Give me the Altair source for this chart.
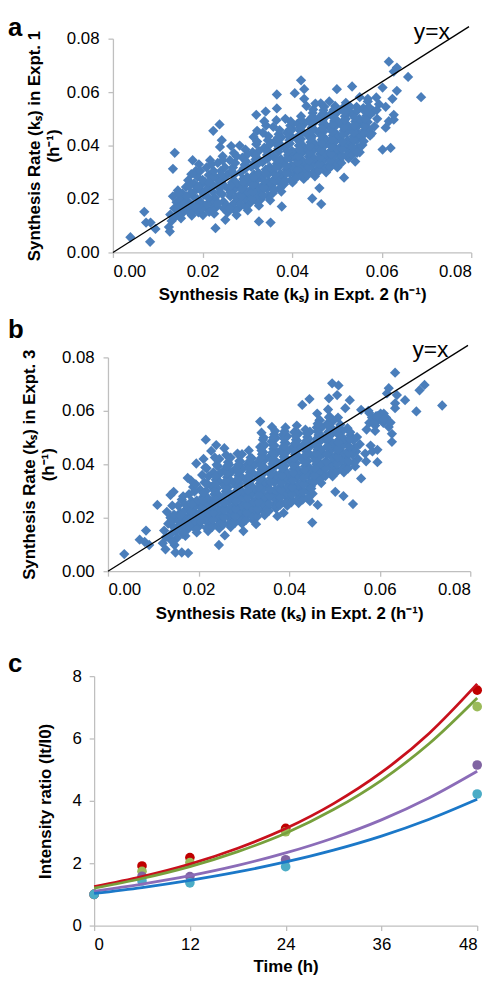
import altair as alt
import pandas as pd

FONT = "Liberation Sans"
BLUE = "#4A7EBB"

# ---------------- Panel a: Expt. 2 (x) vs Expt. 1 (y) ----------------
a_core = [
    (0.0125, 0.0095), (0.0131, 0.0118), (0.0128, 0.0142), (0.0137, 0.0165), (0.0142, 0.0188), (0.0134, 0.0210), (0.0145, 0.0232), (0.0140, 0.0135),
    (0.0152, 0.0128), (0.0158, 0.0152), (0.0150, 0.0175), (0.0161, 0.0198), (0.0155, 0.0221), (0.0163, 0.0245), (0.0168, 0.0270), (0.0166, 0.0160), (0.0171, 0.0185),
    (0.0176, 0.0138), (0.0183, 0.0162), (0.0179, 0.0210), (0.0186, 0.0235), (0.0181, 0.0258), (0.0189, 0.0282), (0.0185, 0.0305), (0.0192, 0.0330), (0.0195, 0.0190), (0.0191, 0.0150), (0.0178, 0.0345),
    (0.0201, 0.0140), (0.0207, 0.0168), (0.0203, 0.0215), (0.0211, 0.0240), (0.0205, 0.0265), (0.0214, 0.0290), (0.0209, 0.0318), (0.0217, 0.0345), (0.0219, 0.0195), (0.0222, 0.0228), (0.0215, 0.0152),
    (0.0226, 0.0145), (0.0232, 0.0172), (0.0228, 0.0205), (0.0236, 0.0255), (0.0230, 0.0280), (0.0241, 0.0305), (0.0234, 0.0335), (0.0245, 0.0360), (0.0239, 0.0395), (0.0243, 0.0420), (0.0238, 0.0225), (0.0247, 0.0190),
    (0.0251, 0.0122), (0.0256, 0.0150), (0.0253, 0.0178), (0.0262, 0.0210), (0.0258, 0.0238), (0.0266, 0.0262), (0.0255, 0.0290), (0.0268, 0.0318), (0.0261, 0.0345), (0.0270, 0.0372), (0.0264, 0.0398),
    (0.0276, 0.0140), (0.0282, 0.0168), (0.0279, 0.0195), (0.0287, 0.0222), (0.0281, 0.0248), (0.0291, 0.0275), (0.0285, 0.0300), (0.0294, 0.0328), (0.0289, 0.0355), (0.0296, 0.0385), (0.0283, 0.0400),
    (0.0301, 0.0158), (0.0306, 0.0185), (0.0303, 0.0212), (0.0311, 0.0240), (0.0305, 0.0265), (0.0315, 0.0292), (0.0309, 0.0320), (0.0318, 0.0348), (0.0312, 0.0375), (0.0320, 0.0405), (0.0314, 0.0432), (0.0322, 0.0455),
    (0.0326, 0.0175), (0.0331, 0.0200), (0.0328, 0.0228), (0.0337, 0.0255), (0.0330, 0.0282), (0.0341, 0.0310), (0.0334, 0.0338), (0.0344, 0.0365), (0.0338, 0.0392), (0.0346, 0.0420), (0.0335, 0.0448), (0.0342, 0.0475),
    (0.0351, 0.0195), (0.0357, 0.0222), (0.0353, 0.0250), (0.0362, 0.0278), (0.0355, 0.0305), (0.0366, 0.0332), (0.0359, 0.0360), (0.0369, 0.0388), (0.0361, 0.0415), (0.0370, 0.0442), (0.0358, 0.0470), (0.0365, 0.0495),
    (0.0376, 0.0228), (0.0382, 0.0255), (0.0379, 0.0282), (0.0387, 0.0310), (0.0380, 0.0338), (0.0391, 0.0365), (0.0384, 0.0392), (0.0394, 0.0420), (0.0388, 0.0448), (0.0396, 0.0475), (0.0385, 0.0500),
    (0.0401, 0.0262), (0.0406, 0.0290), (0.0403, 0.0318), (0.0411, 0.0345), (0.0405, 0.0372), (0.0415, 0.0400), (0.0409, 0.0428), (0.0418, 0.0455), (0.0412, 0.0482), (0.0420, 0.0510), (0.0414, 0.0300),
    (0.0426, 0.0275), (0.0431, 0.0302), (0.0428, 0.0330), (0.0437, 0.0358), (0.0430, 0.0385), (0.0441, 0.0412), (0.0434, 0.0440), (0.0444, 0.0468), (0.0438, 0.0495), (0.0446, 0.0522), (0.0432, 0.0548),
    (0.0451, 0.0285), (0.0457, 0.0312), (0.0453, 0.0340), (0.0462, 0.0368), (0.0455, 0.0395), (0.0466, 0.0422), (0.0459, 0.0450), (0.0469, 0.0478), (0.0461, 0.0505), (0.0470, 0.0532), (0.0464, 0.0558),
    (0.0476, 0.0300), (0.0482, 0.0328), (0.0479, 0.0355), (0.0487, 0.0382), (0.0480, 0.0410), (0.0491, 0.0438), (0.0484, 0.0465), (0.0494, 0.0492), (0.0488, 0.0520), (0.0496, 0.0548), (0.0483, 0.0565),
    (0.0501, 0.0318), (0.0506, 0.0345), (0.0503, 0.0372), (0.0511, 0.0400), (0.0505, 0.0428), (0.0515, 0.0455), (0.0509, 0.0482), (0.0518, 0.0510), (0.0512, 0.0538), (0.0520, 0.0560),
    (0.0526, 0.0352), (0.0531, 0.0380), (0.0528, 0.0408), (0.0537, 0.0435), (0.0530, 0.0462), (0.0541, 0.0490), (0.0534, 0.0518), (0.0544, 0.0545),
    (0.0551, 0.0375), (0.0557, 0.0402), (0.0553, 0.0430), (0.0562, 0.0458), (0.0555, 0.0485), (0.0566, 0.0512), (0.0559, 0.0540), (0.0569, 0.0565),
    (0.0578, 0.0445), (0.0584, 0.0472), (0.0590, 0.0500), (0.0582, 0.0528), (0.0594, 0.0555), (0.0588, 0.0580),
]
a_fill = [
    (0.0147, 0.0140), (0.0144, 0.0163), (0.0149, 0.0198), (0.0146, 0.0222),
    (0.0172, 0.0148), (0.0169, 0.0173), (0.0174, 0.0222), (0.0170, 0.0247), (0.0175, 0.0293),
    (0.0197, 0.0163), (0.0194, 0.0180), (0.0199, 0.0228), (0.0196, 0.0252), (0.0200, 0.0272), (0.0195, 0.0305),
    (0.0222, 0.0160), (0.0219, 0.0185), (0.0224, 0.0252), (0.0221, 0.0277), (0.0225, 0.0305), (0.0220, 0.0330),
    (0.0247, 0.0165), (0.0244, 0.0218), (0.0249, 0.0250), (0.0246, 0.0275), (0.0250, 0.0318), (0.0245, 0.0345),
    (0.0272, 0.0158), (0.0269, 0.0182), (0.0274, 0.0208), (0.0271, 0.0235), (0.0275, 0.0262), (0.0270, 0.0290), (0.0273, 0.0335), (0.0276, 0.0360),
    (0.0297, 0.0172), (0.0294, 0.0200), (0.0299, 0.0228), (0.0296, 0.0255), (0.0300, 0.0282), (0.0295, 0.0312), (0.0298, 0.0340), (0.0301, 0.0368),
    (0.0322, 0.0190), (0.0319, 0.0215), (0.0324, 0.0245), (0.0321, 0.0270), (0.0325, 0.0298), (0.0320, 0.0325), (0.0323, 0.0352), (0.0326, 0.0380), (0.0322, 0.0415),
    (0.0347, 0.0210), (0.0344, 0.0238), (0.0349, 0.0265), (0.0346, 0.0292), (0.0350, 0.0320), (0.0345, 0.0350), (0.0348, 0.0378), (0.0351, 0.0405), (0.0347, 0.0435),
    (0.0372, 0.0240), (0.0369, 0.0268), (0.0374, 0.0295), (0.0371, 0.0322), (0.0375, 0.0350), (0.0370, 0.0378), (0.0373, 0.0405), (0.0376, 0.0430), (0.0372, 0.0458),
    (0.0397, 0.0270), (0.0394, 0.0298), (0.0399, 0.0325), (0.0396, 0.0352), (0.0400, 0.0380), (0.0395, 0.0408), (0.0398, 0.0435), (0.0401, 0.0462), (0.0397, 0.0490),
    (0.0422, 0.0288), (0.0419, 0.0315), (0.0424, 0.0342), (0.0421, 0.0370), (0.0425, 0.0398), (0.0420, 0.0425), (0.0423, 0.0452), (0.0426, 0.0480),
    (0.0447, 0.0298), (0.0444, 0.0325), (0.0449, 0.0352), (0.0446, 0.0380), (0.0450, 0.0408), (0.0445, 0.0435), (0.0448, 0.0462), (0.0451, 0.0490), (0.0447, 0.0535),
    (0.0472, 0.0315), (0.0469, 0.0342), (0.0474, 0.0370), (0.0471, 0.0398), (0.0475, 0.0425), (0.0470, 0.0452), (0.0473, 0.0480), (0.0476, 0.0510), (0.0472, 0.0545),
    (0.0497, 0.0332), (0.0494, 0.0360), (0.0499, 0.0388), (0.0496, 0.0415), (0.0500, 0.0442), (0.0495, 0.0470), (0.0498, 0.0498), (0.0501, 0.0525),
    (0.0522, 0.0365), (0.0519, 0.0392), (0.0524, 0.0420), (0.0521, 0.0448), (0.0525, 0.0475), (0.0520, 0.0500), (0.0523, 0.0528),
    (0.0547, 0.0390), (0.0544, 0.0418), (0.0549, 0.0445), (0.0546, 0.0472), (0.0550, 0.0500), (0.0545, 0.0530),
    (0.0572, 0.0460), (0.0569, 0.0488), (0.0574, 0.0515), (0.0571, 0.0545),
]
a_dense = [
    (0.0160, 0.0185), (0.0165, 0.0210), (0.0185, 0.0175), (0.0188, 0.0200), (0.0190, 0.0245), (0.0210, 0.0180), (0.0213, 0.0205), (0.0215, 0.0262),
    (0.0235, 0.0185), (0.0238, 0.0240), (0.0240, 0.0268), (0.0242, 0.0290), (0.0260, 0.0165), (0.0262, 0.0225), (0.0263, 0.0250), (0.0265, 0.0305),
    (0.0285, 0.0180), (0.0287, 0.0210), (0.0288, 0.0238), (0.0290, 0.0262), (0.0292, 0.0315), (0.0310, 0.0200), (0.0312, 0.0228), (0.0313, 0.0252),
    (0.0315, 0.0280), (0.0317, 0.0335), (0.0318, 0.0362), (0.0335, 0.0215), (0.0337, 0.0242), (0.0338, 0.0268), (0.0340, 0.0296), (0.0342, 0.0352),
    (0.0343, 0.0380), (0.0360, 0.0235), (0.0362, 0.0265), (0.0363, 0.0292), (0.0364, 0.0318), (0.0366, 0.0346), (0.0367, 0.0402), (0.0368, 0.0428),
    (0.0385, 0.0268), (0.0387, 0.0296), (0.0388, 0.0324), (0.0389, 0.0352), (0.0390, 0.0378), (0.0392, 0.0406), (0.0393, 0.0434), (0.0395, 0.0460),
    (0.0410, 0.0280), (0.0412, 0.0308), (0.0413, 0.0336), (0.0414, 0.0360), (0.0416, 0.0386), (0.0417, 0.0414), (0.0418, 0.0440), (0.0419, 0.0468), (0.0421, 0.0495),
    (0.0435, 0.0290), (0.0437, 0.0318), (0.0438, 0.0344), (0.0439, 0.0372), (0.0440, 0.0398), (0.0442, 0.0426), (0.0443, 0.0454), (0.0445, 0.0480), (0.0446, 0.0508),
    (0.0460, 0.0305), (0.0461, 0.0330), (0.0462, 0.0356), (0.0464, 0.0382), (0.0465, 0.0410), (0.0466, 0.0436), (0.0467, 0.0464), (0.0468, 0.0492), (0.0469, 0.0520),
    (0.0485, 0.0318), (0.0486, 0.0342), (0.0487, 0.0368), (0.0488, 0.0396), (0.0489, 0.0424), (0.0490, 0.0452), (0.0491, 0.0480), (0.0492, 0.0506), (0.0493, 0.0534),
    (0.0510, 0.0335), (0.0511, 0.0360), (0.0512, 0.0386), (0.0513, 0.0414), (0.0514, 0.0442), (0.0516, 0.0468), (0.0517, 0.0496), (0.0518, 0.0524),
    (0.0535, 0.0366), (0.0536, 0.0394), (0.0537, 0.0420), (0.0538, 0.0450), (0.0539, 0.0476), (0.0540, 0.0504),
    (0.0560, 0.0416), (0.0561, 0.0444), (0.0562, 0.0472), (0.0563, 0.0500), (0.0564, 0.0526),
]
a_outliers = [
    (0.0039, 0.0057), (0.0070, 0.0152), (0.0083, 0.0040), (0.0074, 0.0112), (0.0084, 0.0112), (0.0095, 0.0088),
    (0.0127, 0.0078), (0.0138, 0.0373), (0.0134, 0.0313), (0.0229, 0.0091), (0.0238, 0.0479), (0.0224, 0.0455),
    (0.0326, 0.0116), (0.0352, 0.0112), (0.0377, 0.0172), (0.0366, 0.0591), (0.0366, 0.0539), (0.0420, 0.0644),
    (0.0406, 0.0596), (0.0427, 0.0611), (0.0427, 0.0575), (0.0445, 0.0202), (0.0465, 0.0181), (0.0461, 0.0241),
    (0.0500, 0.0611), (0.0534, 0.0621), (0.0516, 0.0280), (0.0541, 0.0340), (0.0545, 0.0373), (0.0574, 0.0437),
    (0.0602, 0.0385), (0.0620, 0.0391), (0.0616, 0.0714), (0.0634, 0.0692), (0.0627, 0.0677), (0.0659, 0.0657),
    (0.0688, 0.0581), (0.0634, 0.0605), (0.0624, 0.0575), (0.0602, 0.0617), (0.0609, 0.0545), (0.0589, 0.0533),
    (0.0627, 0.0515), (0.0616, 0.0491), (0.0609, 0.0467), (0.0627, 0.0497), (0.0569, 0.0575), (0.0551, 0.0581),
    (0.0530, 0.0545), (0.0452, 0.0557), (0.0320, 0.0515), (0.0338, 0.0491), (0.0341, 0.0527),
]

# ---------------- Panel b: Expt. 2 (x) vs Expt. 3 (y) ----------------
b_core = [
    (0.0121, 0.0105), (0.0128, 0.0128), (0.0124, 0.0152), (0.0133, 0.0178), (0.0138, 0.0200), (0.0130, 0.0222), (0.0142, 0.0245), (0.0140, 0.0115),
    (0.0147, 0.0098), (0.0153, 0.0125), (0.0149, 0.0150), (0.0157, 0.0172), (0.0151, 0.0195), (0.0160, 0.0220), (0.0155, 0.0245), (0.0163, 0.0268), (0.0165, 0.0140),
    (0.0171, 0.0132), (0.0177, 0.0158), (0.0173, 0.0185), (0.0181, 0.0210), (0.0175, 0.0235), (0.0185, 0.0262), (0.0179, 0.0288), (0.0188, 0.0315), (0.0183, 0.0340), (0.0190, 0.0172),
    (0.0196, 0.0145), (0.0202, 0.0170), (0.0198, 0.0198), (0.0206, 0.0225), (0.0200, 0.0252), (0.0210, 0.0278), (0.0204, 0.0305), (0.0213, 0.0332), (0.0208, 0.0360), (0.0215, 0.0388), (0.0211, 0.0420), (0.0216, 0.0195),
    (0.0221, 0.0150), (0.0227, 0.0178), (0.0223, 0.0205), (0.0231, 0.0232), (0.0225, 0.0260), (0.0235, 0.0288), (0.0229, 0.0315), (0.0238, 0.0342), (0.0233, 0.0370), (0.0240, 0.0398), (0.0236, 0.0425), (0.0228, 0.0450), (0.0239, 0.0472),
    (0.0246, 0.0160), (0.0252, 0.0188), (0.0248, 0.0215), (0.0256, 0.0242), (0.0250, 0.0270), (0.0260, 0.0298), (0.0254, 0.0325), (0.0263, 0.0352), (0.0258, 0.0380), (0.0265, 0.0408), (0.0261, 0.0435), (0.0257, 0.0460),
    (0.0271, 0.0165), (0.0277, 0.0192), (0.0273, 0.0220), (0.0281, 0.0248), (0.0275, 0.0275), (0.0285, 0.0302), (0.0279, 0.0330), (0.0288, 0.0358), (0.0283, 0.0385), (0.0290, 0.0412), (0.0286, 0.0440),
    (0.0296, 0.0178), (0.0302, 0.0205), (0.0298, 0.0232), (0.0306, 0.0260), (0.0300, 0.0288), (0.0310, 0.0315), (0.0304, 0.0342), (0.0313, 0.0370), (0.0308, 0.0398), (0.0315, 0.0425), (0.0311, 0.0452),
    (0.0321, 0.0190), (0.0327, 0.0218), (0.0323, 0.0245), (0.0331, 0.0272), (0.0325, 0.0300), (0.0335, 0.0328), (0.0329, 0.0355), (0.0338, 0.0382), (0.0333, 0.0410), (0.0340, 0.0438), (0.0336, 0.0465), (0.0342, 0.0492), (0.0339, 0.0518),
    (0.0346, 0.0210), (0.0352, 0.0238), (0.0348, 0.0265), (0.0356, 0.0292), (0.0350, 0.0320), (0.0360, 0.0348), (0.0354, 0.0375), (0.0363, 0.0402), (0.0358, 0.0430), (0.0365, 0.0458), (0.0361, 0.0485), (0.0367, 0.0512), (0.0362, 0.0540),
    (0.0371, 0.0235), (0.0377, 0.0262), (0.0373, 0.0290), (0.0381, 0.0318), (0.0375, 0.0345), (0.0385, 0.0372), (0.0379, 0.0400), (0.0388, 0.0428), (0.0383, 0.0455), (0.0390, 0.0482), (0.0386, 0.0510), (0.0392, 0.0538),
    (0.0396, 0.0245), (0.0402, 0.0272), (0.0398, 0.0300), (0.0406, 0.0328), (0.0400, 0.0355), (0.0410, 0.0382), (0.0404, 0.0410), (0.0413, 0.0438), (0.0408, 0.0465), (0.0415, 0.0492), (0.0411, 0.0520), (0.0417, 0.0545),
    (0.0421, 0.0255), (0.0427, 0.0282), (0.0423, 0.0310), (0.0431, 0.0338), (0.0425, 0.0365), (0.0435, 0.0392), (0.0429, 0.0420), (0.0438, 0.0448), (0.0433, 0.0475), (0.0440, 0.0502), (0.0436, 0.0530),
    (0.0446, 0.0262), (0.0452, 0.0290), (0.0448, 0.0318), (0.0456, 0.0345), (0.0450, 0.0372), (0.0460, 0.0400), (0.0454, 0.0428), (0.0463, 0.0455), (0.0458, 0.0482), (0.0465, 0.0510), (0.0461, 0.0538), (0.0467, 0.0565), (0.0462, 0.0590),
    (0.0471, 0.0330), (0.0477, 0.0358), (0.0473, 0.0385), (0.0481, 0.0412), (0.0475, 0.0440), (0.0485, 0.0468), (0.0479, 0.0495), (0.0488, 0.0522), (0.0483, 0.0550), (0.0490, 0.0578), (0.0486, 0.0605),
    (0.0496, 0.0355), (0.0502, 0.0382), (0.0498, 0.0410), (0.0506, 0.0438), (0.0500, 0.0465), (0.0510, 0.0492), (0.0504, 0.0520), (0.0513, 0.0548), (0.0508, 0.0575),
    (0.0521, 0.0370), (0.0527, 0.0398), (0.0523, 0.0425), (0.0531, 0.0452), (0.0525, 0.0480), (0.0535, 0.0508), (0.0529, 0.0535),
    (0.0546, 0.0392), (0.0552, 0.0420), (0.0548, 0.0448), (0.0556, 0.0475), (0.0550, 0.0502),
    (0.0571, 0.0530), (0.0577, 0.0555), (0.0583, 0.0575), (0.0590, 0.0545), (0.0596, 0.0565), (0.0602, 0.0590),
    (0.0608, 0.0555), (0.0614, 0.0575), (0.0620, 0.0540), (0.0575, 0.0600), (0.0568, 0.0440), (0.0580, 0.0470),
]
b_fill = [
    (0.0143, 0.0112), (0.0140, 0.0140), (0.0145, 0.0165), (0.0142, 0.0190), (0.0146, 0.0212),
    (0.0168, 0.0145), (0.0165, 0.0170), (0.0170, 0.0198), (0.0167, 0.0222), (0.0171, 0.0250), (0.0166, 0.0280),
    (0.0193, 0.0158), (0.0190, 0.0185), (0.0195, 0.0212), (0.0192, 0.0240), (0.0196, 0.0265), (0.0191, 0.0298), (0.0194, 0.0325),
    (0.0218, 0.0162), (0.0215, 0.0190), (0.0220, 0.0218), (0.0217, 0.0245), (0.0221, 0.0272), (0.0216, 0.0300), (0.0219, 0.0328), (0.0222, 0.0355), (0.0218, 0.0385),
    (0.0243, 0.0172), (0.0240, 0.0200), (0.0245, 0.0228), (0.0242, 0.0255), (0.0246, 0.0282), (0.0241, 0.0310), (0.0244, 0.0338), (0.0247, 0.0365), (0.0243, 0.0392), (0.0246, 0.0420),
    (0.0268, 0.0178), (0.0265, 0.0205), (0.0270, 0.0232), (0.0267, 0.0260), (0.0271, 0.0288), (0.0266, 0.0315), (0.0269, 0.0342), (0.0272, 0.0370), (0.0268, 0.0398), (0.0271, 0.0425),
    (0.0293, 0.0192), (0.0290, 0.0218), (0.0295, 0.0245), (0.0292, 0.0272), (0.0296, 0.0300), (0.0291, 0.0328), (0.0294, 0.0355), (0.0297, 0.0382), (0.0293, 0.0410), (0.0296, 0.0438),
    (0.0318, 0.0205), (0.0315, 0.0232), (0.0320, 0.0258), (0.0317, 0.0285), (0.0321, 0.0312), (0.0316, 0.0340), (0.0319, 0.0368), (0.0322, 0.0395), (0.0318, 0.0422),
    (0.0343, 0.0225), (0.0340, 0.0252), (0.0345, 0.0278), (0.0342, 0.0305), (0.0346, 0.0335), (0.0341, 0.0362), (0.0344, 0.0390), (0.0347, 0.0418), (0.0343, 0.0445), (0.0346, 0.0472), (0.0344, 0.0500),
    (0.0368, 0.0248), (0.0365, 0.0275), (0.0370, 0.0305), (0.0367, 0.0332), (0.0371, 0.0360), (0.0366, 0.0388), (0.0369, 0.0415), (0.0372, 0.0442), (0.0368, 0.0470), (0.0371, 0.0498), (0.0369, 0.0525),
    (0.0393, 0.0258), (0.0390, 0.0285), (0.0395, 0.0312), (0.0392, 0.0340), (0.0396, 0.0368), (0.0391, 0.0395), (0.0394, 0.0422), (0.0397, 0.0450), (0.0393, 0.0478), (0.0396, 0.0505),
    (0.0418, 0.0268), (0.0415, 0.0295), (0.0420, 0.0322), (0.0417, 0.0350), (0.0421, 0.0378), (0.0416, 0.0405), (0.0419, 0.0432), (0.0422, 0.0460), (0.0418, 0.0488), (0.0421, 0.0515),
    (0.0443, 0.0275), (0.0440, 0.0302), (0.0445, 0.0330), (0.0442, 0.0358), (0.0446, 0.0385), (0.0441, 0.0412), (0.0444, 0.0440), (0.0447, 0.0468), (0.0443, 0.0495), (0.0446, 0.0522),
    (0.0468, 0.0345), (0.0465, 0.0372), (0.0470, 0.0400), (0.0467, 0.0428), (0.0471, 0.0455), (0.0466, 0.0482), (0.0469, 0.0510), (0.0472, 0.0538), (0.0468, 0.0565),
    (0.0493, 0.0368), (0.0490, 0.0395), (0.0495, 0.0425), (0.0492, 0.0452), (0.0496, 0.0480), (0.0491, 0.0508), (0.0494, 0.0535), (0.0497, 0.0562),
    (0.0518, 0.0385), (0.0515, 0.0412), (0.0520, 0.0440), (0.0517, 0.0468), (0.0521, 0.0495), (0.0516, 0.0522),
    (0.0543, 0.0405), (0.0540, 0.0435), (0.0545, 0.0462), (0.0542, 0.0490),
    (0.0590, 0.0525), (0.0587, 0.0555), (0.0592, 0.0580), (0.0612, 0.0565), (0.0609, 0.0590),
]
b_dense = [
    (0.0155, 0.0160), (0.0158, 0.0185), (0.0160, 0.0208), (0.0180, 0.0170), (0.0182, 0.0198), (0.0184, 0.0224), (0.0186, 0.0250),
    (0.0205, 0.0185), (0.0207, 0.0212), (0.0208, 0.0238), (0.0209, 0.0265), (0.0211, 0.0292),
    (0.0230, 0.0165), (0.0232, 0.0192), (0.0233, 0.0218), (0.0234, 0.0246), (0.0235, 0.0272), (0.0236, 0.0300), (0.0237, 0.0328), (0.0238, 0.0355),
    (0.0255, 0.0175), (0.0256, 0.0202), (0.0257, 0.0228), (0.0258, 0.0256), (0.0259, 0.0284), (0.0260, 0.0312), (0.0261, 0.0338), (0.0262, 0.0366), (0.0263, 0.0394),
    (0.0280, 0.0180), (0.0281, 0.0206), (0.0282, 0.0234), (0.0283, 0.0262), (0.0284, 0.0290), (0.0285, 0.0316), (0.0286, 0.0344), (0.0287, 0.0372), (0.0288, 0.0398),
    (0.0305, 0.0192), (0.0306, 0.0218), (0.0307, 0.0246), (0.0308, 0.0274), (0.0309, 0.0302), (0.0310, 0.0328), (0.0311, 0.0356), (0.0312, 0.0384), (0.0313, 0.0412),
    (0.0330, 0.0205), (0.0331, 0.0232), (0.0332, 0.0258), (0.0333, 0.0286), (0.0334, 0.0314), (0.0335, 0.0342), (0.0336, 0.0368), (0.0337, 0.0396), (0.0338, 0.0424), (0.0339, 0.0452),
    (0.0355, 0.0225), (0.0356, 0.0252), (0.0357, 0.0280), (0.0358, 0.0306), (0.0359, 0.0334), (0.0360, 0.0362), (0.0361, 0.0388), (0.0362, 0.0416), (0.0363, 0.0444), (0.0364, 0.0472), (0.0365, 0.0500),
    (0.0380, 0.0248), (0.0381, 0.0276), (0.0382, 0.0304), (0.0383, 0.0330), (0.0384, 0.0358), (0.0385, 0.0386), (0.0386, 0.0412), (0.0387, 0.0440), (0.0388, 0.0468), (0.0389, 0.0496), (0.0390, 0.0524),
    (0.0405, 0.0258), (0.0406, 0.0286), (0.0407, 0.0314), (0.0408, 0.0340), (0.0409, 0.0368), (0.0410, 0.0396), (0.0411, 0.0424), (0.0412, 0.0450), (0.0413, 0.0478), (0.0414, 0.0506),
    (0.0430, 0.0268), (0.0431, 0.0296), (0.0432, 0.0324), (0.0433, 0.0352), (0.0434, 0.0378), (0.0435, 0.0406), (0.0436, 0.0434), (0.0437, 0.0462), (0.0438, 0.0488), (0.0439, 0.0516),
    (0.0455, 0.0332), (0.0456, 0.0358), (0.0457, 0.0386), (0.0458, 0.0414), (0.0459, 0.0442), (0.0460, 0.0468), (0.0461, 0.0496), (0.0462, 0.0524), (0.0463, 0.0552),
    (0.0480, 0.0356), (0.0481, 0.0384), (0.0482, 0.0410), (0.0483, 0.0438), (0.0484, 0.0466), (0.0485, 0.0494), (0.0486, 0.0520), (0.0487, 0.0548), (0.0488, 0.0576),
    (0.0505, 0.0372), (0.0506, 0.0400), (0.0507, 0.0426), (0.0508, 0.0454), (0.0509, 0.0482), (0.0510, 0.0510), (0.0511, 0.0536),
    (0.0530, 0.0384), (0.0531, 0.0412), (0.0532, 0.0440), (0.0533, 0.0466), (0.0534, 0.0494), (0.0535, 0.0520),
]
b_outliers = [
    (0.0036, 0.0064), (0.0084, 0.0152), (0.0070, 0.0118), (0.0081, 0.0110), (0.0091, 0.0098), (0.0109, 0.0248),
    (0.0127, 0.0082), (0.0149, 0.0070), (0.0163, 0.0070), (0.0177, 0.0068), (0.0138, 0.0285), (0.0145, 0.0297),
    (0.0176, 0.0349), (0.0195, 0.0403), (0.0216, 0.0492), (0.0245, 0.0098), (0.0258, 0.0134), (0.0299, 0.0150),
    (0.0327, 0.0176), (0.0336, 0.0560), (0.0374, 0.0206), (0.0388, 0.0218), (0.0429, 0.0622), (0.0445, 0.0644),
    (0.0451, 0.0182), (0.0463, 0.0248), (0.0449, 0.0309), (0.0495, 0.0703), (0.0509, 0.0695), (0.0488, 0.0647),
    (0.0506, 0.0659), (0.0534, 0.0640), (0.0524, 0.0610), (0.0502, 0.0297), (0.0520, 0.0281), (0.0541, 0.0251),
    (0.0559, 0.0347), (0.0570, 0.0411), (0.0595, 0.0408), (0.0584, 0.0448), (0.0595, 0.0454), (0.0634, 0.0743),
    (0.0616, 0.0665), (0.0620, 0.0685), (0.0638, 0.0659), (0.0656, 0.0640), (0.0681, 0.0598), (0.0688, 0.0677),
    (0.0699, 0.0697), (0.0738, 0.0620), (0.0627, 0.0484), (0.0627, 0.0514), (0.0634, 0.0628), (0.0634, 0.0610),
    (0.0559, 0.0604), (0.0577, 0.0592), (0.0595, 0.0580), (0.0609, 0.0568), (0.0624, 0.0556),
]

# identity reference line (as drawn) and its label
line_x = [0.0, 0.0795]
line_y = [0.0, 0.0845]
label_x = [0.0712]
label_y = [0.0800]
ks_ticks = [0.0, 0.02, 0.04, 0.06, 0.08]

# ---------------- Panel c: intensity ratio over time ----------------
series = ["red", "green", "purple", "cyan"]
point_colors = ["#C00000", "#9BBB59", "#8064A2", "#4BACC6"]
line_colors = ["#C8101C", "#77A03C", "#8B6CB8", "#1B78C8"]
time_pts = [0, 6, 12, 24, 48]
red_pts = [1.0, 1.91, 2.18, 3.12, 7.55]
green_pts = [1.0, 1.74, 2.02, 3.01, 7.02]
purple_pts = [1.0, 1.58, 1.57, 2.11, 5.15]
cyan_pts = [1.0, 1.43, 1.37, 1.89, 4.22]
curve_t = [0, 6, 12, 18, 24, 30, 36, 42, 48]
red_fit = [1.25, 1.57, 1.97, 2.48, 3.11, 3.91, 4.91, 6.17, 7.75]
green_fit = [1.20, 1.51, 1.89, 2.37, 2.96, 3.72, 4.66, 5.84, 7.30]
purple_fit = [1.10, 1.33, 1.60, 1.93, 2.33, 2.81, 3.39, 4.10, 4.95]
blue_fit = [1.03, 1.22, 1.45, 1.72, 2.04, 2.42, 2.87, 3.41, 4.05]
time_ticks = [0, 12, 24, 36, 48]
ratio_ticks = [0, 2, 4, 6, 8]

KS_X_TITLE = "Synthesis Rate (kₛ) in Expt. 2 (h⁻¹)"


def panel_title(letter, dy):
    return alt.TitleParams(letter, anchor="start", frame="group", dx=-106, dy=dy, fontSize=26, font=FONT,
                           fontWeight="bold", color="black")


def scatter_panel(points, letter, expt, width, height, shift, dy):
    df = pd.DataFrame(points, columns=["x", "y"])
    ref = pd.DataFrame({"x": line_x, "y": line_y})
    lab = pd.DataFrame({"x": label_x, "y": label_y, "t": ["y=x"]})
    if shift:
        xs = alt.Scale(domain=[0, 0.08], range=[-shift, width], nice=False, zero=False)
        yax = dict(offset=shift)
    else:
        xs = alt.Scale(domain=[0, 0.08], nice=False, zero=False)
        yax = {}
    ys = alt.Scale(domain=[0, 0.08], nice=False, zero=False)
    pts = alt.Chart(df).mark_point(shape="diamond", filled=True, size=108, color=BLUE, opacity=1).encode(
        x=alt.X("x:Q", scale=xs, axis=alt.Axis(values=ks_ticks, format=".2f", title=KS_X_TITLE,
                                                labelPadding=6, titlePadding=8)),
        y=alt.Y("y:Q", scale=ys, axis=alt.Axis(values=ks_ticks, format=".2f",
                                                title=[f"Synthesis Rate (kₛ) in Expt. {expt}", "(h⁻¹)"],
                                                labelPadding=9, titlePadding=4, titleLineHeight=19, **yax)),
    )
    line = alt.Chart(ref).mark_line(color="black", strokeWidth=1.3).encode(
        x=alt.X("x:Q", scale=xs), y=alt.Y("y:Q", scale=ys))
    txt = alt.Chart(lab).mark_text(font=FONT, fontSize=23, align="center", baseline="alphabetic",
                                   color="black").encode(
        x=alt.X("x:Q", scale=xs), y=alt.Y("y:Q", scale=ys), text="t:N")
    return alt.layer(pts, line, txt).properties(width=width, height=height, title=panel_title(letter, dy))


chart_a = scatter_panel(a_core + a_fill + a_dense + a_outliers, "a", 1, 362, 216, 0, 24)
chart_b = scatter_panel(b_core + b_fill + b_dense + b_outliers, "b", 3, 361, 216, 5, 7)

fits = {"red": red_fit, "green": green_fit, "purple": purple_fit, "cyan": blue_fit}
obs = {"red": red_pts, "green": green_pts, "purple": purple_pts, "cyan": cyan_pts}
rows_p, rows_l = [], []
for i, s in enumerate(series):
    for t, v in zip(time_pts, obs[s]):
        rows_p.append({"t": t, "v": v, "s": s, "o": i})
    for t, v in zip(curve_t, fits[s]):
        rows_l.append({"t": t, "v": v, "s": s, "o": i})
dfp = pd.DataFrame(rows_p)
dfl = pd.DataFrame(rows_l)
tx = alt.Scale(domain=[0, 48], range=[-19, 368], nice=False)
vy = alt.Scale(domain=[0, 8], nice=False)
c_pts = alt.Chart(dfp).mark_circle(size=95, opacity=1).encode(
    x=alt.X("t:Q", scale=tx, axis=alt.Axis(values=time_ticks, title="Time (h)", labelPadding=6, titlePadding=6)),
    y=alt.Y("v:Q", scale=vy, axis=alt.Axis(values=ratio_ticks, title="Intensity ratio (It/I0)", offset=19,
                                           labelPadding=8, titlePadding=18)),
    color=alt.Color("s:N", scale=alt.Scale(domain=series, range=point_colors), legend=None),
    order="o:Q",
)
c_lines = alt.Chart(dfl).mark_line(strokeWidth=2.8, interpolate="monotone").encode(
    x=alt.X("t:Q", scale=tx), y=alt.Y("v:Q", scale=vy),
    color=alt.Color("s:N", scale=alt.Scale(domain=series, range=line_colors), legend=None),
    detail="s:N",
)
chart_c = alt.layer(c_pts, c_lines).resolve_scale(color="independent").properties(
    width=368, height=252, title=panel_title("c", 14),
)

top = alt.vconcat(chart_a, chart_b, spacing=14)
chart = alt.vconcat(top, chart_c, spacing=30).properties(
    padding={"left": 0, "top": 2, "right": 0, "bottom": 0}
).configure_view(stroke=None).configure_axis(
    grid=False, domainColor="#BFBFBF", tickColor="#BFBFBF", domainWidth=1.3, tickWidth=1.3, tickSize=5,
    labelFont=FONT, labelFontSize=17, labelColor="black", titleFont=FONT, titleFontSize=17,
    titleFontWeight="bold", titleColor="black",
)

chart.save("out.html", embed_options={"renderer": "svg", "actions": False})
